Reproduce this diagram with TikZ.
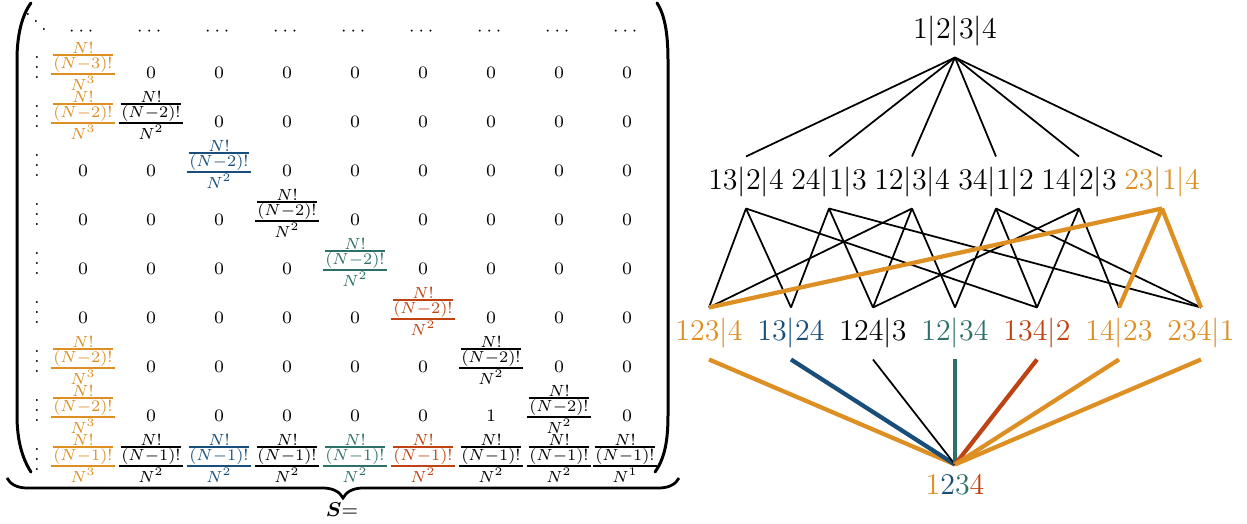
\documentclass[tikz,border=0pt]{standalone}
\usepackage{amsmath}
\usepackage{graphicx}
\usetikzlibrary{decorations.pathreplacing}
\definecolor{cOr}{RGB}{221,143,36}
\definecolor{cBl}{RGB}{24,78,121}
\definecolor{cTe}{RGB}{45,112,105}
\definecolor{cRe}{RGB}{191,67,18}
\newbox\frbox
\newdimen\frwd
\newcommand{\myfr}[2]{\scalebox{0.92}{%
  \setbox\frbox\hbox{$\scriptstyle(N-#1)!$}%
  \frwd=\dimexpr\wd\frbox+2.4pt\relax
  \lower4.4pt\vbox{\offinterlineskip
    \hbox to\frwd{\hfil$\scriptstyle N!$\hfil}
    \kern0.2pt
    \hbox to\frwd{\hfil\vrule height0.85pt depth0pt width\wd\frbox\hfil}
    \kern0.3pt
    \hbox to\frwd{\hfil\copy\frbox\hfil}
    \hrule height0.85pt
    \kern0.5pt
    \hbox to\frwd{\hfil\vrule height6.1pt depth0pt width0pt$\scriptstyle N^{#2}$\hfil}}}}
\begin{document}
\begin{tikzpicture}[x=0.4pt,y=-0.4pt,
  ent/.style={inner sep=0pt, anchor=base, font=\normalsize},
  entz/.style={inner sep=0pt, anchor=base, font=\scriptsize},
  vd/.style={entz, text height=9pt},
  parenline/.style={line width=1.2pt, line cap=round},
  bracestyle/.style={decorate, decoration={brace, mirror, amplitude=8pt}, line width=1.1pt},
  lab/.style={inner sep=0pt, anchor=base, font=\large, text height=13.2pt, text depth=7.2pt},
  ek/.style={line width=0.7pt},
  ec/.style={line width=1.7pt},
]
\useasboundingbox (0,0) rectangle (1247,524);

% ---------------- matrix ----------------
\node[entz] (m0-0) at (36,33) {$\ddots$};
\foreach \c in {1,...,9} \node[entz] (m0-\c) at ({15+68*\c},36) {$\cdots$};
\foreach \r in {1,...,9} \node[vd] (v\r) at (37,{79+49*(\r-1)}) {$\vdots$};

\foreach \r/\cs in {1/{2,3,4,5,6,7,8,9}, 2/{3,4,5,6,7,8,9}, 3/{1,2,4,5,6,7,8,9},
                    4/{1,2,3,5,6,7,8,9}, 5/{1,2,3,4,6,7,8,9}, 6/{1,2,3,4,5,7,8,9},
                    7/{2,3,4,5,6,8,9}, 8/{2,3,4,5,6,9}}
  \foreach \c in \cs \node[entz] (m\r-\c) at ({15+68*\c},{79+49*(\r-1)}) {$0$};

\node[ent, text=cOr] (m1-1) at (83,80) {\myfr{3}{3}};
\node[ent, text=cOr] (m2-1) at (83,129) {\myfr{2}{3}};
\node[ent] (m2-2) at (151,129) {\myfr{2}{2}};
\node[ent, text=cBl] (m3-3) at (219,178) {\myfr{2}{2}};
\node[ent] (m4-4) at (287,227) {\myfr{2}{2}};
\node[ent, text=cTe] (m5-5) at (355,276) {\myfr{2}{2}};
\node[ent, text=cRe] (m6-6) at (423,325) {\myfr{2}{2}};
\node[ent, text=cOr] (m7-1) at (83,374) {\myfr{2}{3}};
\node[ent] (m7-7) at (491,374) {\myfr{2}{2}};
\node[ent, text=cOr] (m8-1) at (83,423) {\myfr{2}{3}};
\node[entz] (m8-7) at (491,422) {$1$};
\node[ent] (m8-8) at (559,423) {\myfr{2}{2}};
\node[ent, text=cOr] (m9-1) at (83,472) {\myfr{1}{3}};
\foreach \c/\col in {2/black,3/cBl,4/black,5/cTe,6/cRe,7/black,8/black}
  \node[ent, text=\col] (m9-\c) at ({15+68*\c},472) {\myfr{1}{2}};
\node[ent] (m9-9) at (625,472) {\myfr{1}{1}};

% parentheses
\draw[parenline] (31,3) .. controls (22,15) and (17,35) .. (17,60) -- (17,415)
  .. controls (17,440) and (22,458) .. (31,472);
\draw[parenline] (657,3) .. controls (665,15) and (668,35) .. (668,60) -- (668,415)
  .. controls (668,440) and (665,458) .. (655,472);

% underbrace
\coordinate (bl) at (7,478);
\coordinate (br) at (679,478);
\draw[bracestyle] (bl) -- (br);
\node[inner sep=0pt, font=\footnotesize] (slab) at (342,510) {$\boldsymbol{S}{=}$};

% ---------------- lattice ----------------
\node[lab] (top) at (955,39) {$1|2|3|4$};

\node[lab] (a1) at (746,190) {$13|2|4$};
\node[lab] (a2) at (829,190) {$24|1|3$};
\node[lab] (a3) at (912,190) {$12|3|4$};
\node[lab] (a4) at (996,190) {$34|1|2$};
\node[lab] (a5) at (1079,190) {$14|2|3$};
\node[lab, text=cOr] (a6) at (1162,190) {$23|1|4$};

\node[lab, text=cOr] (b1) at (709,341) {$123|4$};
\node[lab, text=cBl] (b2) at (791,341) {$13|24$};
\node[lab] (b3) at (873,341) {$124|3$};
\node[lab, text=cTe] (b4) at (955,341) {$12|34$};
\node[lab, text=cRe] (b5) at (1037,341) {$134|2$};
\node[lab, text=cOr] (b6) at (1119,341) {$14|23$};
\node[lab, text=cOr] (b7) at (1201,341) {$234|1$};

\node[lab, text height=12pt] (bot) at (955,495)
  {$\textcolor{cOr}{1}\textcolor{cBl}{2}\textcolor{cTe}{3}\textcolor{cRe}{4}$};

\foreach \m in {1,...,6} \draw[ek] (top.south) -- (a\m.north);

\foreach \m/\b in {1/1,1/2,1/5, 2/2,2/3,2/7, 3/1,3/3,3/4, 4/4,4/5,4/7, 5/3,5/5,5/6}
  \draw[ek] (a\m.south) -- (b\b.north);
\foreach \b in {1,6,7} \draw[ec, cOr] (a6.south) -- (b\b.north);

\draw[ec, cOr] (b1.south) -- (bot.north);
\draw[ec, cBl] (b2.south) -- (bot.north);
\draw[ek] (b3.south) -- (bot.north);
\draw[ec, cTe] (b4.south) -- (bot.north);
\draw[ec, cRe] (b5.south) -- (bot.north);
\draw[ec, cOr] (b6.south) -- (bot.north);
\draw[ec, cOr] (b7.south) -- (bot.north);
\end{tikzpicture}
\end{document}
